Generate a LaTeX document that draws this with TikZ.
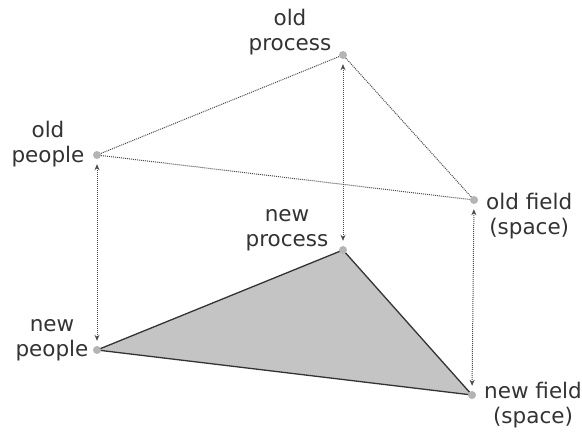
\documentclass[tikz,border=0pt]{standalone}
\usepackage{fontspec}
\setmainfont{DejaVu Sans}
\usepackage{xcolor}
\usetikzlibrary{calc,positioning,arrows.meta,backgrounds}
\definecolor{textmain}{HTML}{333333}
\definecolor{linegray}{HTML}{4A4A4A}
\definecolor{dotgray}{HTML}{B4B4B4}
\definecolor{planefill}{HTML}{C4C4C4}

\begin{document}
\begin{tikzpicture}[
  x=1pt, y=-1pt,
  vertex/.style={
    circle, fill=dotgray, inner sep=0pt, minimum size=8pt,
  },
  lbl/.style={
    inner sep=0pt, align=center, text=textmain,
    font=\fontsize{21.5}{25}\selectfont,
  },
  oldedge/.style={linegray, densely dotted, line width=1pt},
  shiftarrow/.style={
    linegray, densely dotted, line width=1pt,
    {Stealth[length=6pt,width=5pt]}-{Stealth[length=6pt,width=5pt]},
    shorten <=5pt, shorten >=5pt,
  },
]
\useasboundingbox (0,0) rectangle (582,442);

\node[vertex] (oProc) at (343, 55) {};
\node[vertex] (oPeop) at (97, 155) {};
\node[vertex] (oField) at (474, 200) {};
\node[vertex] (nProc) at (343, 250) {};
\node[vertex] (nPeop) at (97, 350) {};
\node[vertex] (nField) at (472, 395) {};

\node[lbl] (oProcL) at ($(oProc)+(-53,-23)$) {old\\process};
\node[lbl] (oPeopL) at ($(oPeop)+(-49,-11)$) {old\\people};
\node[lbl, anchor=west] (oFieldL) at ($(oField)+(12,16)$) {old field\\(space)};
\node[lbl] (nProcL) at ($(nProc)+(-56,-20)$) {new\\process};
\node[lbl] (nPeopL) at ($(nPeop)+(-45,-10)$) {new\\people};
\node[lbl, anchor=west] (nFieldL) at ($(nField)+(12,10)$) {new field\\(space)};

% new plane
\begin{scope}[on background layer]
  \filldraw[fill=planefill, draw=textmain, line width=1.3pt, line join=round]
    (nPeop.center) -- (nProc.center) -- (nField.center) -- cycle;
\end{scope}

% old plane
\draw[oldedge] (oPeop) -- (oProc);
\draw[oldedge] (oProc) -- (oField);
\draw[oldedge] (oPeop) -- (oField);

\draw[shiftarrow] (oPeop) -- (nPeop);
\draw[shiftarrow] (oProc) -- (nProc);
\draw[shiftarrow] (oField) -- (nField);

\end{tikzpicture}
\end{document}
